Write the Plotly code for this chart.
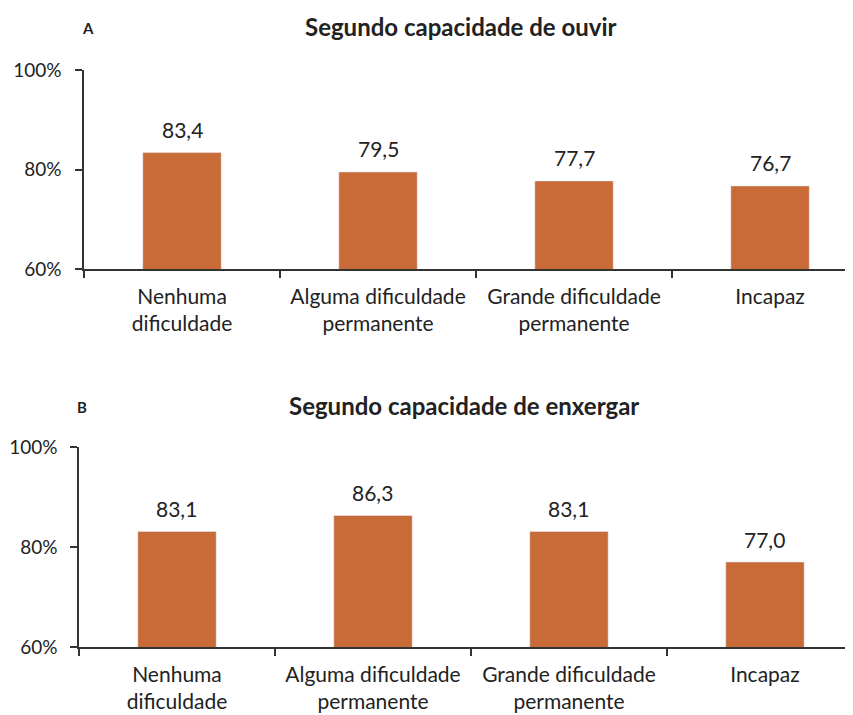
import plotly.graph_objects as go

categories = ["Nenhuma<br>dificuldade", "Alguma dificuldade<br>permanente",
              "Grande dificuldade<br>permanente", "Incapaz"]
ouvir = [83.4, 79.5, 77.7, 76.7]
enxergar = [83.1, 86.3, 83.1, 77.0]
title_a = "Segundo capacidade de ouvir"
title_b = "Segundo capacidade de enxergar"
ytick_vals = [60, 80, 100]
ytick_text = ["60%", "80%", "100%"]

BAR = "#C86B38"
FONT = "Lato"
TXT = "#222222"
AX = "#333333"

W, H = 853, 715
OFF = 8  # page body margin


def px_x(x):
    return (x - OFF) / W


def px_y(y):
    return 1 - (y - OFF) / H


fig = go.Figure()
fig.add_trace(go.Bar(x=categories, y=ouvir, marker_color=BAR, width=0.4,
                     xaxis="x", yaxis="y", hoverinfo="skip"))
fig.add_trace(go.Bar(x=categories, y=enxergar, marker_color=BAR, width=0.4,
                     xaxis="x2", yaxis="y2", hoverinfo="skip"))

annotations = []
for xa, ya, vals in (("x", "y", ouvir), ("x2", "y2", enxergar)):
    for c, v in zip(categories, vals):
        annotations.append(dict(x=c, y=v, xref=xa, yref=ya, text=f"{v:.1f}".replace(".", ","),
                                showarrow=False, yanchor="middle", yshift=23,
                                font=dict(family=FONT, size=21, color=TXT)))

annotations += [
    dict(x=px_x(88), y=px_y(28), xref="paper", yref="paper", text="<b>A</b>", showarrow=False,
         xanchor="center", yanchor="middle", font=dict(family=FONT, size=15, color=TXT)),
    dict(x=px_x(461), y=px_y(27), xref="paper", yref="paper", text=f"<b>{title_a}</b>", showarrow=False,
         xanchor="center", yanchor="middle", font=dict(family=FONT, size=24, color=TXT)),
    dict(x=px_x(82), y=px_y(407), xref="paper", yref="paper", text="<b>B</b>", showarrow=False,
         xanchor="center", yanchor="middle", font=dict(family=FONT, size=15, color=TXT)),
    dict(x=px_x(464), y=px_y(405), xref="paper", yref="paper", text=f"<b>{title_b}</b>", showarrow=False,
         xanchor="center", yanchor="middle", font=dict(family=FONT, size=24, color=TXT)),
]

xcommon = dict(type="category", tickson="boundaries", ticks="outside", ticklen=7,
               tickcolor=AX, showline=True, linecolor=AX, linewidth=1.5, tickwidth=1.5,
               tickfont=dict(family=FONT, size=21, color=TXT), automargin=False,
               ticklabelstandoff=8, showgrid=False, fixedrange=True)
ycommon = dict(range=[60, 100], tickvals=ytick_vals, ticktext=ytick_text, ticks="outside",
               ticklen=7, tickcolor=AX, showline=True, linecolor=AX, linewidth=1.5, tickwidth=1.5,
               tickfont=dict(family=FONT, size=19, color=TXT), showgrid=False,
               ticklabelstandoff=10, zeroline=False, automargin=False, fixedrange=True)

fig.update_layout(
    width=W, height=H, margin=dict(l=0, r=0, t=0, b=0),
    paper_bgcolor="white", plot_bgcolor="white", showlegend=False,
    xaxis=dict(xcommon, domain=[px_x(84), 1], range=[-0.5, 3.464], anchor="y"),
    yaxis=dict(ycommon, domain=[px_y(269), px_y(70)], anchor="x"),
    xaxis2=dict(xcommon, domain=[px_x(79), 1], range=[-0.5, 3.49], anchor="y2"),
    yaxis2=dict(ycommon, domain=[px_y(647), px_y(447)], anchor="x2",
                ticklabelstandoff=9),
    annotations=annotations,
)

fig.write_html("out.html")
